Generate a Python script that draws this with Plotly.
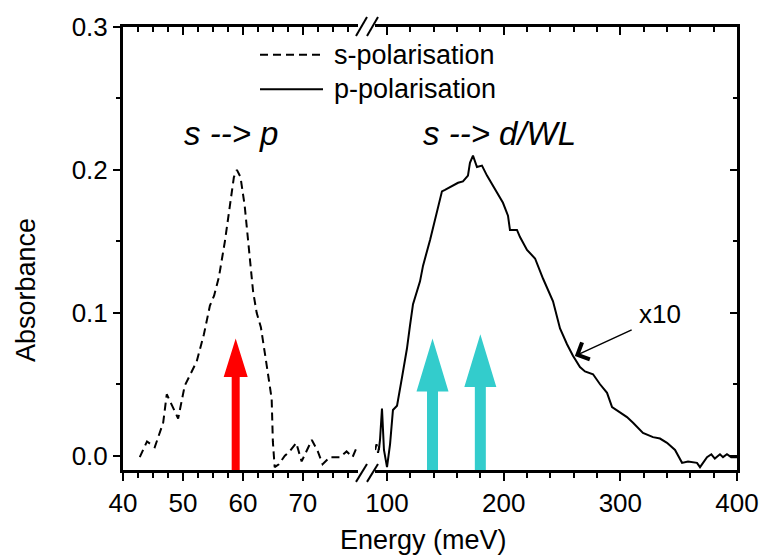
import plotly.graph_objects as go

# ---------------- data ----------------
# s-polarisation (dashed), low-energy segment
s_energy = [42.8, 44.0, 45.3, 46.7, 47.3, 48.2, 49.2, 50.3, 51.2, 52.3, 53.5, 54.5, 55.2,
            56.0, 57.0, 57.8, 58.5, 59.0, 59.6, 60.3, 61.0, 61.7, 62.3, 63.0, 63.8, 64.4,
            64.8, 65.0, 65.3, 66.0, 67.0, 67.8, 68.9, 69.8, 70.5, 71.5, 72.5, 73.3, 74.5,
            76.2, 77.3, 78.3, 79.0]
s_abs = [-0.001, 0.010, 0.006, 0.023, 0.043, 0.035, 0.026, 0.049, 0.057, 0.066, 0.085, 0.105,
         0.112, 0.125, 0.150, 0.175, 0.195, 0.200, 0.195, 0.175, 0.145, 0.115, 0.100, 0.090,
         0.068, 0.052, 0.040, 0.010, -0.008, -0.006, 0.000, 0.003, 0.009, -0.004, 0.002, 0.011,
         0.003, -0.006, -0.001, -0.001, 0.003, -0.001, 0.006]
# s-polarisation bits just after the axis break
s_energy_hi = [89.8, 91.0, 92.3, 93.5]
s_abs_hi = [0.004, 0.008, 0.002, 0.007]

# p-polarisation (solid), high-energy segment
p_energy = [93.0, 94.0, 95.7, 97.4, 100.0, 102.6, 105.1, 108.6, 112.9, 117.1, 119.7, 122.3,
            128.3, 130.9, 136.9, 141.1, 147.1, 149.7, 155.7, 160.9, 165.1, 169.4, 171.1,
            173.7, 177.1, 181.4, 185.7, 192.6, 199.4, 203.7, 205.4, 211.4, 214.0, 220.0,
            226.9, 233.7, 242.3, 248.3, 254.3, 259.4, 265.4, 269.7, 276.6, 282.6, 288.6,
            292.9, 299.7, 305.7, 310.9, 319.4, 328.0, 334.0, 340.0, 346.9, 352.9, 358.0,
            365.7, 368.3, 374.3, 378.0, 381.0, 385.4, 388.0, 391.4, 395.0, 400.0]
p_abs = [0.004, 0.011, 0.033, 0.004, -0.008, 0.008, 0.032, 0.035, 0.055, 0.075, 0.091, 0.106,
         0.122, 0.133, 0.151, 0.165, 0.185, 0.186, 0.189, 0.191, 0.192, 0.196, 0.205, 0.210,
         0.202, 0.203, 0.196, 0.186, 0.177, 0.168, 0.158, 0.158, 0.153, 0.144, 0.138, 0.124,
         0.108, 0.089, 0.078, 0.070, 0.062, 0.059, 0.057, 0.050, 0.044, 0.034, 0.030, 0.027,
         0.023, 0.016, 0.013, 0.012, 0.009, 0.004, -0.005, -0.004, -0.005, -0.008, -0.001,
         0.001, -0.002, 0.001, -0.001, 0.001, -0.001, -0.001]

# transition arrows
arrow_energy = [58.8, 139.0, 180.0]
arrow_tip = [0.082, 0.082, 0.085]
arrow_head_base = [0.055, 0.045, 0.048]
arrow_axis = ["x", "x2", "x2"]
arrow_color = ["#ff0000", "#33cccc", "#33cccc"]

x_left_range = [40, 79.2]
x_right_range = [89.7, 400]
y_range = [-0.01, 0.3]

# ---------------- figure ----------------
FONT = "Liberation Sans, Arial, sans-serif"
W, H = 771, 557
ML, MR, MT, MB = 123, 34, 22, 87
PW, PH = W - ML - MR, H - MT - MB


def px2paper(px, py):
    return (px - ML) / PW, (H - MB - py) / PH


fig = go.Figure()
fig.add_trace(go.Scatter(x=s_energy, y=s_abs, mode="lines", name="s-polarisation",
                         line=dict(color="black", width=2, dash="8px,5px"),
                         xaxis="x", yaxis="y", showlegend=False))
fig.add_trace(go.Scatter(x=s_energy_hi, y=s_abs_hi, mode="lines", name="s-polarisation",
                         line=dict(color="black", width=2, dash="8px,5px"),
                         xaxis="x2", yaxis="y", showlegend=False))
fig.add_trace(go.Scatter(x=p_energy, y=p_abs, mode="lines", name="p-polarisation",
                         line=dict(color="black", width=2),
                         xaxis="x2", yaxis="y", showlegend=False))
# carrier traces so the mirrored (top / right) frame axes get drawn
for xa, ya, xs, ys in [("x3", "y", s_energy, s_abs), ("x4", "y", p_energy, p_abs),
                       ("x2", "y2", p_energy, p_abs)]:
    fig.add_trace(go.Scatter(x=xs, y=ys, mode="lines", xaxis=xa, yaxis=ya, opacity=0,
                             line=dict(width=0), hoverinfo="skip", showlegend=False))

# arrows (pixel widths, data heights)
shapes = []
for e, tip, base, ax, col, sw, hw in zip(arrow_energy, arrow_tip, arrow_head_base, arrow_axis,
                                          arrow_color, [8, 11, 11], [24, 32, 32]):
    yb = y_range[0]
    path = (f"M{-sw/2},{yb} L{sw/2},{yb} L{sw/2},{base} L{hw/2},{base} L0,{tip} "
            f"L{-hw/2},{base} L{-sw/2},{base} Z")
    shapes.append(dict(type="path", xref=ax, yref="y", xsizemode="pixel", xanchor=e,
                       path=path, fillcolor=col, line=dict(width=0), layer="below"))

# axis-break marks
for (x0, y0, x1, y1) in [(356, 31, 367, 12), (367, 31, 378, 12),
                         (356, 482, 367, 464), (367, 482, 378, 464)]:
    a0, b0 = px2paper(x0, y0)
    a1, b1 = px2paper(x1, y1)
    shapes.append(dict(type="line", xref="paper", yref="paper", x0=a0, y0=b0, x1=a1, y1=b1,
                       line=dict(color="black", width=2)))

# manual legend samples
lx0, ly1 = px2paper(260, 50)
lx1, ly2 = px2paper(323, 85)
shapes.append(dict(type="line", xref="paper", yref="paper", x0=lx0, x1=lx1, y0=ly1, y1=ly1,
                   line=dict(color="black", width=2, dash="8px,5px")))
shapes.append(dict(type="line", xref="paper", yref="paper", x0=lx0, x1=lx1, y0=ly2, y1=ly2,
                   line=dict(color="black", width=2)))

annotations = []
tx, _ = px2paper(332, 0)
annotations.append(dict(text="s-polarisation", xref="paper", yref="paper", x=tx, y=ly1,
                        xanchor="left", yanchor="middle", showarrow=False,
                        font=dict(family=FONT, size=27, color="black")))
annotations.append(dict(text="p-polarisation", xref="paper", yref="paper", x=tx, y=ly2,
                        xanchor="left", yanchor="middle", showarrow=False,
                        font=dict(family=FONT, size=27, color="black")))
for txt, cx in [("<i>s --> p</i>", 231), ("<i>s --> d/WL</i>", 499)]:
    ax_, ay_ = px2paper(cx, 130)
    annotations.append(dict(text=txt, xref="paper", yref="paper", x=ax_, y=ay_,
                            xanchor="center", yanchor="middle", showarrow=False,
                            font=dict(family=FONT, size=33, color="black")))
# axis titles
ax_, ay_ = px2paper(26, 288)
annotations.append(dict(text="Absorbance", xref="paper", yref="paper", x=ax_, y=ay_,
                        textangle=-90, xanchor="center", yanchor="middle", showarrow=False,
                        font=dict(family=FONT, size=27, color="black")))
ax_, ay_ = px2paper(423, 541)
annotations.append(dict(text="Energy (meV)", xref="paper", yref="paper", x=ax_, y=ay_,
                        xanchor="center", yanchor="middle", showarrow=False,
                        font=dict(family=FONT, size=27, color="black")))
# x10 label and arrow
annotations.append(dict(text="x10", xref="x2", yref="y", x=334, y=0.099, showarrow=False,
                        xanchor="center", yanchor="middle",
                        font=dict(family=FONT, size=26, color="black")))
annotations.append(dict(text="", xref="x2", yref="y", x=261, y=0.0698,
                        axref="x2", ayref="y", ax=311, ay=0.0885, showarrow=True,
                        arrowhead=4, arrowsize=2.4, arrowwidth=1.5, arrowcolor="black"))

tickfont = dict(family=FONT, size=26, color="black")
common = dict(showline=True, linewidth=3, linecolor="black", showgrid=False, zeroline=False,
              tickwidth=2, tickcolor="black", tickfont=tickfont)

fig.update_layout(
    width=W, height=H, autosize=False,
    margin=dict(l=ML, r=MR, t=MT, b=MB, pad=0),
    paper_bgcolor="white", plot_bgcolor="white",
    font=dict(family=FONT, color="black"),
    showlegend=False,
    xaxis=dict(domain=[0, 0.3827], range=x_left_range, anchor="y", ticks="outside",
               ticklen=8, tick0=40, dtick=10,
               minor=dict(ticks="outside", ticklen=5, dtick=2.5, tickwidth=2,
                          tickcolor="black"), **common),
    xaxis2=dict(domain=[0.4104, 1], range=x_right_range, anchor="y", ticks="outside",
                ticklen=8, tick0=0, dtick=100,
                minor=dict(ticks="outside", ticklen=5, dtick=20, tickwidth=2,
                           tickcolor="black"), **common),
    xaxis3=dict(overlaying="x", side="top", range=x_left_range, anchor="y", ticks="inside",
                ticklen=8, tick0=40, dtick=10, showticklabels=False,
                minor=dict(ticks="inside", ticklen=5, dtick=2.5, tickwidth=2,
                           tickcolor="black"), **common),
    xaxis4=dict(overlaying="x2", side="top", range=x_right_range, anchor="y", ticks="inside",
                ticklen=8, tick0=0, dtick=100, showticklabels=False,
                minor=dict(ticks="inside", ticklen=5, dtick=20, tickwidth=2,
                           tickcolor="black"), **common),
    yaxis=dict(domain=[0, 1], range=y_range, anchor="x", ticks="outside", ticklen=7,
               tick0=0, dtick=0.1, tickformat=".1f",
               minor=dict(ticks="outside", ticklen=4, dtick=0.05, tickwidth=2,
                          tickcolor="black"), **common),
    yaxis2=dict(overlaying="y", side="right", anchor="x2", range=y_range, ticks="inside",
                ticklen=7, tick0=0, dtick=0.1, showticklabels=False,
                minor=dict(ticks="inside", ticklen=4, dtick=0.05, tickwidth=2,
                           tickcolor="black"), **common),
    shapes=shapes,
    annotations=annotations,
)

fig.write_html("out.html")
